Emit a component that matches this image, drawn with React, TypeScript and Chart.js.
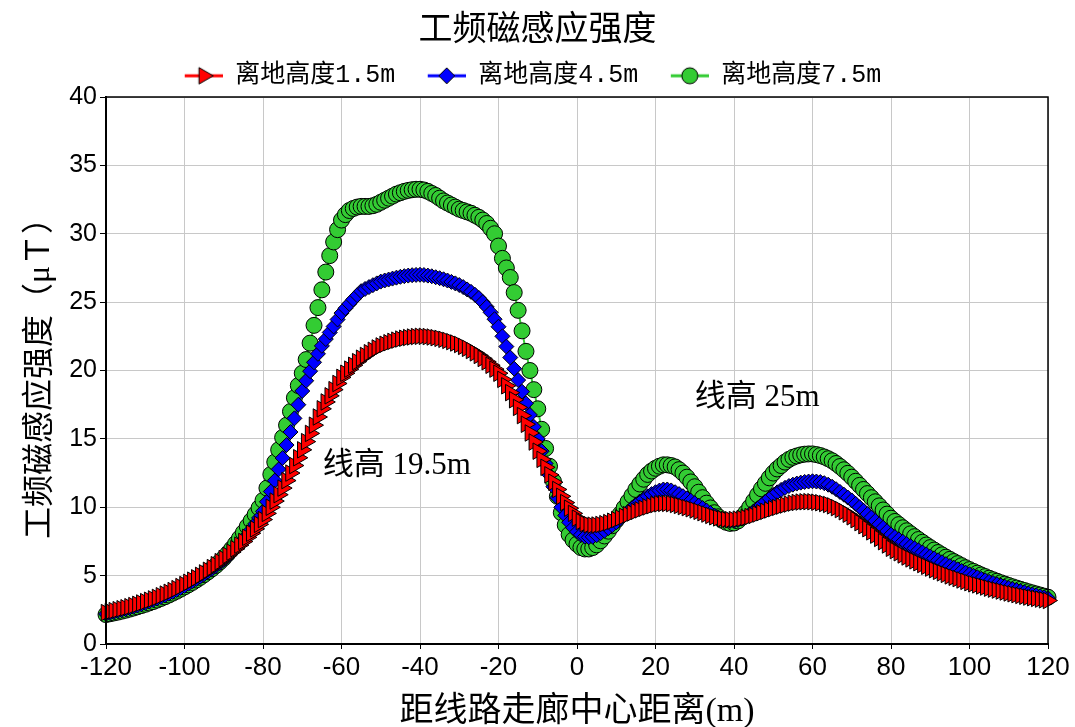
import React, { useEffect, useRef } from 'react';
import { Chart, registerables } from 'chart.js';

Chart.register(...registerables);

// ---------- data ----------
const X_START = -120;
const X_END = 120;
const distances: number[] = [];
for (let m = X_START; m <= X_END; m += 1) distances.push(m);

const seriesNames = ['离地高度1.5m', '离地高度4.5m', '离地高度7.5m'];

const height15: number[] = [
  2.30, 2.37, 2.44, 2.51, 2.58, 2.65,
  2.73, 2.81, 2.90, 3.00, 3.10,
  3.20, 3.30, 3.41, 3.53, 3.65,
  3.78, 3.91, 4.05, 4.20, 4.35,
  4.51, 4.67, 4.84, 5.02, 5.20,
  5.39, 5.59, 5.80, 6.02, 6.25,
  6.48, 6.72, 6.97, 7.23, 7.50,
  7.80, 8.10, 8.42, 8.75, 9.10,
  9.55, 10.00, 10.45, 10.92, 11.40,
  11.95, 12.50, 13.05, 13.62, 14.20,
  14.80, 15.40, 16.00, 16.60, 17.20,
  17.70, 18.15, 18.60, 19.05, 19.50,
  19.80, 20.10, 20.38, 20.65, 20.90,
  21.10, 21.30, 21.48, 21.65, 21.80,
  21.92, 22.03, 22.13, 22.22, 22.30,
  22.36, 22.41, 22.45, 22.48, 22.50,
  22.50, 22.48, 22.45, 22.40, 22.35,
  22.28, 22.20, 22.11, 22.01, 21.90,
  21.76, 21.62, 21.46, 21.29, 21.10,
  20.88, 20.64, 20.38, 20.10, 19.80,
  19.35, 18.88, 18.38, 17.86, 17.30,
  16.70, 16.07, 15.43, 14.77, 14.10,
  13.50, 12.92, 12.37, 11.83, 11.30,
  10.80, 10.34, 9.93, 9.55, 9.20,
  8.95, 8.80, 8.72, 8.69, 8.70,
  8.74, 8.80, 8.88, 8.98, 9.10,
  9.22, 9.34, 9.46, 9.58, 9.70,
  9.81, 9.92, 10.02, 10.11, 10.20,
  10.25, 10.28, 10.28, 10.26, 10.20,
  10.13, 10.05, 9.97, 9.89, 9.80,
  9.70, 9.60, 9.50, 9.40, 9.30,
  9.22, 9.16, 9.11, 9.09, 9.10,
  9.13, 9.18, 9.24, 9.32, 9.40,
  9.50, 9.60, 9.70, 9.80, 9.90,
  9.99, 10.08, 10.16, 10.23, 10.30,
  10.35, 10.38, 10.40, 10.41, 10.40,
  10.37, 10.33, 10.27, 10.20, 10.10,
  9.97, 9.83, 9.67, 9.49, 9.30,
  9.09, 8.87, 8.65, 8.43, 8.20,
  7.96, 7.72, 7.48, 7.24, 7.00,
  6.83, 6.67, 6.51, 6.36, 6.22,
  6.08, 5.94, 5.81, 5.68, 5.55,
  5.43, 5.31, 5.20, 5.09, 4.98,
  4.88, 4.78, 4.68, 4.58, 4.48,
  4.40, 4.32, 4.24, 4.16, 4.08,
  4.01, 3.94, 3.87, 3.80, 3.73,
  3.67, 3.61, 3.55, 3.49, 3.43,
  3.38, 3.33, 3.28, 3.23, 3.18,
];

const height45: number[] = [
  2.20, 2.27, 2.34, 2.41, 2.48, 2.55,
  2.63, 2.72, 2.81, 2.90, 3.00,
  3.10, 3.21, 3.32, 3.43, 3.55,
  3.68, 3.81, 3.95, 4.10, 4.25,
  4.41, 4.58, 4.75, 4.92, 5.10,
  5.29, 5.49, 5.70, 5.92, 6.15,
  6.41, 6.68, 6.96, 7.27, 7.60,
  7.97, 8.36, 8.78, 9.22, 9.70,
  10.40, 11.15, 11.95, 12.77, 13.60,
  14.55, 15.50, 16.50, 17.50, 18.50,
  19.25, 19.95, 20.60, 21.22, 21.80,
  22.30, 22.78, 23.22, 23.73, 24.20,
  24.55, 24.88, 25.20, 25.50, 25.80,
  25.96, 26.10, 26.24, 26.37, 26.50,
  26.58, 26.65, 26.72, 26.79, 26.85,
  26.90, 26.94, 26.97, 26.99, 27.00,
  26.98, 26.94, 26.89, 26.82, 26.75,
  26.67, 26.58, 26.48, 26.37, 26.25,
  26.10, 25.93, 25.75, 25.54, 25.30,
  25.00, 24.65, 24.25, 23.75, 23.20,
  22.50, 21.75, 20.95, 20.13, 19.30,
  18.45, 17.60, 16.75, 15.88, 15.00,
  14.10, 13.20, 12.35, 11.50, 10.70,
  10.00, 9.40, 8.90, 8.50, 8.20,
  7.98, 7.85, 7.80, 7.84, 7.95,
  8.10, 8.28, 8.47, 8.68, 8.90,
  9.15, 9.41, 9.67, 9.94, 10.20,
  10.42, 10.62, 10.80, 10.96, 11.10,
  11.22, 11.30, 11.30, 11.23, 11.10,
  10.96, 10.81, 10.65, 10.48, 10.30,
  10.12, 9.94, 9.76, 9.58, 9.40,
  9.25, 9.13, 9.04, 9.00, 9.00,
  9.06, 9.17, 9.32, 9.50, 9.70,
  9.93, 10.17, 10.42, 10.66, 10.90,
  11.09, 11.27, 11.42, 11.55, 11.65,
  11.73, 11.80, 11.85, 11.88, 11.90,
  11.88, 11.84, 11.76, 11.65, 11.50,
  11.32, 11.12, 10.92, 10.71, 10.50,
  10.25, 10.00, 9.75, 9.50, 9.25,
  9.00, 8.75, 8.50, 8.25, 8.00,
  7.82, 7.65, 7.48, 7.31, 7.15,
  7.00, 6.85, 6.70, 6.55, 6.40,
  6.26, 6.12, 5.98, 5.84, 5.70,
  5.58, 5.46, 5.34, 5.22, 5.10,
  4.99, 4.88, 4.77, 4.66, 4.55,
  4.46, 4.37, 4.28, 4.19, 4.10,
  4.02, 3.94, 3.86, 3.78, 3.70,
  3.63, 3.56, 3.49, 3.42, 3.35,
];

const height75: number[] = [
  2.15, 2.21, 2.27, 2.33, 2.40, 2.47,
  2.55, 2.63, 2.72, 2.81, 2.90,
  3.00, 3.10, 3.21, 3.33, 3.45,
  3.58, 3.72, 3.86, 4.01, 4.17,
  4.33, 4.50, 4.68, 4.87, 5.07,
  5.28, 5.50, 5.74, 6.00, 6.28,
  6.60, 6.95, 7.33, 7.73, 8.15,
  8.60, 9.02, 9.47, 9.95, 10.50,
  11.40, 12.40, 13.30, 14.20, 15.10,
  16.00, 17.00, 18.00, 18.90, 19.80,
  20.80, 22.00, 23.30, 24.60, 25.90,
  27.20, 28.40, 29.40, 30.30, 31.00,
  31.40, 31.70, 31.85, 31.95, 32.00,
  32.00, 32.00, 32.05, 32.15, 32.30,
  32.45, 32.60, 32.75, 32.90, 33.00,
  33.10, 33.17, 33.22, 33.25, 33.25,
  33.20, 33.10, 32.95, 32.80, 32.60,
  32.40, 32.25, 32.10, 31.95, 31.80,
  31.70, 31.60, 31.50, 31.35, 31.20,
  31.00, 30.75, 30.40, 30.00, 29.10,
  28.20, 27.50, 26.80, 25.70, 24.40,
  22.90, 21.40, 20.00, 18.60, 17.20,
  15.70, 14.30, 13.00, 11.90, 10.80,
  9.60, 8.70, 8.00, 7.60, 7.30,
  7.05, 6.95, 6.95, 7.05, 7.25,
  7.55, 7.90, 8.25, 8.65, 9.05,
  9.50, 9.95, 10.40, 10.85, 11.30,
  11.70, 12.05, 12.40, 12.65, 12.85,
  13.00, 13.10, 13.10, 13.05, 12.95,
  12.75, 12.50, 12.20, 11.85, 11.50,
  11.10, 10.70, 10.30, 9.95, 9.60,
  9.30, 9.05, 8.90, 8.82, 8.85,
  9.00, 9.25, 9.60, 10.00, 10.45,
  10.90, 11.35, 11.75, 12.15, 12.50,
  12.80, 13.05, 13.30, 13.50, 13.65,
  13.75, 13.83, 13.88, 13.90, 13.90,
  13.85, 13.78, 13.68, 13.55, 13.40,
  13.20, 12.98, 12.74, 12.48, 12.20,
  11.90, 11.60, 11.30, 11.00, 10.70,
  10.40, 10.10, 9.80, 9.50, 9.20,
  8.96, 8.73, 8.50, 8.28, 8.06,
  7.85, 7.64, 7.44, 7.24, 7.05,
  6.87, 6.69, 6.52, 6.35, 6.19,
  6.03, 5.88, 5.73, 5.58, 5.44,
  5.31, 5.18, 5.05, 4.93, 4.81,
  4.70, 4.59, 4.48, 4.38, 4.28,
  4.18, 4.09, 4.00, 3.91, 3.82,
  3.74, 3.66, 3.58, 3.50, 3.42,
];

const yTicks = [0, 5, 10, 15, 20, 25, 30, 35, 40];
const xTicks = [-120, -100, -80, -60, -40, -20, 0, 20, 40, 60, 80, 100, 120];

const notes = [
  { text: '线高 19.5m', x: -64.8, y: 13.0 },
  { text: '线高 25m', x: 30.0, y: 18.0 },
];

const CHART_TITLE = '工频磁感应强度';
const X_TITLE = '距线路走廊中心距离(m)';
const Y_TITLE = '工频磁感应强度（μＴ）';

// ---------- styles ----------
const COLORS = ['#ff0000', '#0000ff', '#33cc33'];
const CJK_SERIF = "'Liberation Serif', 'Noto Sans CJK SC', serif";
const CJK_MONO = "'Liberation Mono', 'Noto Sans CJK SC', monospace";
const ICON_W = 59;
const LEGEND_SHIFT = -15;

function makeIcon(kind: string, color: string): HTMLCanvasElement {
  const c = document.createElement('canvas');
  c.width = ICON_W;
  c.height = 24;
  const g = c.getContext('2d')!;
  g.strokeStyle = color;
  g.lineWidth = 3;
  g.beginPath();
  g.moveTo(ICON_W - 38, 12);
  g.lineTo(ICON_W, 12);
  g.stroke();
  const cx = ICON_W - 19;
  const cy = 12;
  g.fillStyle = color;
  g.strokeStyle = '#000';
  g.lineWidth = 1;
  g.beginPath();
  if (kind === 'tri') {
    const r = 9.5;
    g.moveTo(cx + r, cy);
    g.lineTo(cx - r / 2, cy - r * 0.866);
    g.lineTo(cx - r / 2, cy + r * 0.866);
    g.closePath();
  } else if (kind === 'dia') {
    const r = 8;
    g.moveTo(cx - r, cy);
    g.lineTo(cx, cy - r);
    g.lineTo(cx + r, cy);
    g.lineTo(cx, cy + r);
    g.closePath();
  } else {
    g.arc(cx, cy, 8, 0, Math.PI * 2);
  }
  g.fill();
  g.stroke();
  return c;
}

const framePlugin = {
  id: 'frameAndNotes',
  afterLayout(chart: any) {
    if (chart.legend) {
      chart.legend.left += LEGEND_SHIFT;
      chart.legend.right += LEGEND_SHIFT;
    }
  },
  afterDatasetsDraw(chart: any) {
    const { ctx, chartArea, scales } = chart;
    ctx.save();
    ctx.strokeStyle = '#000';
    ctx.lineWidth = 1.5;
    ctx.strokeRect(chartArea.left, chartArea.top, chartArea.right - chartArea.left, chartArea.bottom - chartArea.top);
    ctx.lineWidth = 2;
    ctx.beginPath();
    ctx.moveTo(chartArea.left, chartArea.top);
    ctx.lineTo(chartArea.left, chartArea.bottom);
    ctx.lineTo(chartArea.right, chartArea.bottom);
    ctx.stroke();
    ctx.font = "31px " + CJK_SERIF;
    ctx.fillStyle = '#000';
    ctx.textAlign = 'left';
    ctx.textBaseline = 'middle';
    notes.forEach((n) => {
      ctx.fillText(n.text, scales.x.getPixelForValue(n.x), scales.y.getPixelForValue(n.y));
    });
    ctx.restore();
  },
};

const bgPlugin = {
  id: 'whiteBg',
  beforeDraw(chart: any) {
    const { ctx, width, height } = chart;
    ctx.save();
    ctx.fillStyle = '#fff';
    ctx.fillRect(0, 0, width, height);
    ctx.restore();
  },
};

export default function App() {
  const ref = useRef<HTMLCanvasElement>(null);

  useEffect(() => {
    if (!ref.current) return;
    const icons = [makeIcon('tri', COLORS[0]), makeIcon('dia', COLORS[1]), makeIcon('cir', COLORS[2])];
    const seriesValues = [height15, height45, height75];
    const pointStyles = ['triangle', 'rectRot', 'circle'];
    const pointRadii = [9.5, 7.5, 8];
    const rotations = [90, 0, 0];

    const datasets = seriesValues.map((vals, i) => ({
      label: seriesNames[i],
      data: distances.map((d, k) => ({ x: d, y: vals[k] })),
      borderColor: COLORS[i],
      backgroundColor: COLORS[i],
      borderWidth: 2,
      pointStyle: pointStyles[i],
      pointRotation: rotations[i],
      pointRadius: pointRadii[i],
      pointBackgroundColor: COLORS[i],
      pointBorderColor: '#000',
      pointBorderWidth: 1,
      clip: false,
    }));

    const chart = new Chart(ref.current, {
      type: 'line',
      data: { datasets },
      plugins: [bgPlugin, framePlugin],
      options: {
        animation: false,
        responsive: false,
        layout: { padding: { left: 0, right: 0, top: 0, bottom: 0 } },
        plugins: {
          title: {
            display: true,
            text: CHART_TITLE,
            color: '#000',
            font: { family: CJK_SERIF, size: 34, weight: 'normal', lineHeight: 1.2 },
            padding: { top: 11, bottom: 0 },
          },
          legend: {
            display: true,
            position: 'top',
            maxHeight: 45.2,
            labels: {
              usePointStyle: true,
              pointStyleWidth: ICON_W,
              padding: 11.5,
              color: '#000',
              font: { family: CJK_MONO, size: 25 },
              generateLabels: (ch: any) => {
                const items = (Chart.defaults.plugins.legend.labels as any).generateLabels(ch);
                return items.map((it: any, i: number) => ({ ...it, pointStyle: icons[i], rotation: 0 }));
              },
            },
          },
          tooltip: { enabled: false },
        },
        scales: {
          x: {
            type: 'linear',
            min: X_START,
            max: X_END,
            afterBuildTicks: (s: any) => {
              s.ticks = xTicks.map((v) => ({ value: v }));
            },
            afterFit: (s: any) => {
              s.height = 83;
            },
            ticks: {
              color: '#000',
              padding: 3,
              maxRotation: 0,
              autoSkip: false,
              font: { family: "'Liberation Sans Narrow', 'Liberation Sans', Arial", size: 26 },
            },
            grid: { color: '#c8c8c8', lineWidth: 1, tickColor: '#000', tickLength: 5 },
            border: { color: '#000', width: 2 },
            title: {
              display: true,
              text: X_TITLE,
              color: '#000',
              font: { family: CJK_SERIF, size: 34, lineHeight: 0.9 },
              padding: 0,
            },
          },
          y: {
            type: 'linear',
            min: 0,
            max: 40,
            afterBuildTicks: (s: any) => {
              s.ticks = yTicks.map((v) => ({ value: v }));
            },
            afterFit: (s: any) => {
              s.width = 106;
            },
            ticks: {
              color: '#000',
              padding: 3,
              font: { family: "'Liberation Sans', Arial", size: 25 },
            },
            grid: { color: '#c8c8c8', lineWidth: 1, tickColor: '#000', tickLength: 6 },
            border: { color: '#000', width: 2 },
            title: {
              display: true,
              text: Y_TITLE,
              color: '#000',
              font: { family: CJK_SERIF, size: 32, lineHeight: 1.2 },
              padding: { top: 21, bottom: 0 },
            },
          },
          yRight: {
            type: 'linear',
            position: 'right',
            min: 0,
            max: 40,
            display: true,
            ticks: { display: false },
            grid: { display: false },
            border: { display: false },
            afterFit: (s: any) => {
              s.width = 27;
            },
          },
        },
      } as any,
    });
    return () => chart.destroy();
  }, []);

  return (
    <div style={{ position: 'fixed', left: 0, top: 0, width: 1075, height: 727, background: '#fff' }}>
      <canvas ref={ref} width={1075} height={727} style={{ display: 'block' }} />
    </div>
  );
}
